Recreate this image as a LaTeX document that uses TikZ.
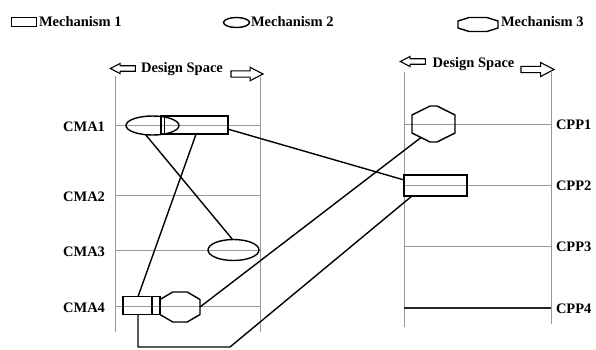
\documentclass[tikz,border=0pt]{standalone}
\usepackage{fontspec}
\setmainfont{Liberation Serif}
\usetikzlibrary{shapes.geometric,shapes.arrows,calc}
\newcommand\hexdraw[2]{%
 \coordinate (#1-a) at ($(#1.north west)!#2!(#1.north east)$);
 \coordinate (#1-b) at ($(#1.north west)!{1-#2}!(#1.north east)$);
 \coordinate (#1-c) at ($(#1.north east)!0.25!(#1.south east)$);
 \coordinate (#1-d) at ($(#1.north east)!0.75!(#1.south east)$);
 \coordinate (#1-e) at ($(#1.south west)!{1-#2}!(#1.south east)$);
 \coordinate (#1-f) at ($(#1.south west)!#2!(#1.south east)$);
 \coordinate (#1-g) at ($(#1.north west)!0.75!(#1.south west)$);
 \coordinate (#1-h) at ($(#1.north west)!0.25!(#1.south west)$);
 \draw[shp] (#1-a) -- (#1-b) -- (#1-c) -- (#1-d) -- (#1-e) -- (#1-f) -- (#1-g) -- (#1-h) -- cycle;}
\begin{document}
\begin{tikzpicture}[x=1pt,y=-1pt,
 lbl/.style={font=\fontsize{14.5}{16}\selectfont\bfseries, inner sep=0pt, outer sep=0pt},
 gridline/.style={draw=gray!80, line width=0.8pt},
 shp/.style={draw=black, line width=1.4pt, inner sep=0pt, outer sep=0pt},
 conn/.style={draw=black, line width=1.4pt},
 hbox/.style={inner sep=0pt, outer sep=0pt, draw=none},
 dsarrow/.style={single arrow, draw=black, line width=1.1pt, inner sep=0pt, outer sep=0pt},
]
\useasboundingbox (0,0) rectangle (596,349);

% legend
\node[shp, rectangle, minimum width=25pt, minimum height=8.5pt] (lg1) at (24,22) {};
\node[lbl, anchor=base west] (lt1) at (39,26.5) {Mechanism 1};
\node[shp, ellipse, minimum width=26pt, minimum height=10pt] (lg2) at (236.5,22.5) {};
\node[lbl, anchor=base west] (lt2) at (251,26.5) {Mechanism 2};
\node[hbox, minimum width=40pt, minimum height=14pt] (lg3) at (478,24.5) {};
\hexdraw{lg3}{0.28}
\node[lbl, anchor=base west] (lt3) at (501,26.5) {Mechanism 3};

% design space headers
\node[dsarrow, shape border rotate=180, minimum height=25pt, inner ysep=2.2pt, single arrow head extend=2.3pt, single arrow tip angle=55] (al1) at (125.5,68.5) {};
\node[lbl, anchor=base] (ds1) at (182,72) {Design Space};
\node[dsarrow, minimum height=32pt, inner ysep=2.6pt, single arrow head extend=3.6pt, single arrow tip angle=55] (ar1) at (244,74) {};
\node[dsarrow, shape border rotate=180, minimum height=25pt, inner ysep=2.2pt, single arrow head extend=2.3pt, single arrow tip angle=55] (al2) at (415.5,61.5) {};
\node[lbl, anchor=base] (ds2) at (473.5,67) {Design Space};
\node[dsarrow, minimum height=33pt, inner ysep=2.6pt, single arrow head extend=3.8pt, single arrow tip angle=55] (ar2) at (534.5,69.5) {};

% left panel frame
\coordinate (lt) at (115,76);
\coordinate (lb) at (115,332);
\coordinate (rt) at (260,77);
\coordinate (rb) at (260,332);
\draw[gridline] (lt) -- (lb);
\draw[gridline] (rt) -- (rb);
\foreach \n/\y in {1/125,2/195,3/250,4/306}{
  \coordinate (cmaL\n) at (115,\y);
  \coordinate (cmaR\n) at (260,\y);
  \draw[gridline] (cmaL\n) -- (cmaR\n);
  \node[lbl, anchor=east] (cma\n) at (105,\y+1.5) {CMA\n};
}

% right panel frame
\coordinate (plt) at (404,72);
\coordinate (plb) at (404,327);
\coordinate (prt) at (551,71);
\coordinate (prb) at (551,324);
\draw[gridline] (plt) -- (plb);
\draw[gridline] (prt) -- (prb);
\foreach \n/\y in {1/124,2/185,3/246}{
  \coordinate (cppL\n) at (404,\y);
  \coordinate (cppR\n) at (551,\y);
  \draw[gridline] (cppL\n) -- (cppR\n);
  \node[lbl, anchor=west] (cpp\n) at (556,\y+1) {CPP\n};
}
\coordinate (cppL4) at (404,308);
\coordinate (cppR4) at (551,308);
\draw[draw=black!85, line width=1.2pt] (cppL4) -- (cppR4);
\node[lbl, anchor=west] (cpp4) at (556,309) {CPP4};

% shapes left
\node[shp, ellipse, minimum width=53pt, minimum height=19pt] (e1) at (152.5,125.5) {};
\node[shp, rectangle, minimum width=67pt, minimum height=18pt] (r1) at (194.5,125) {};
\draw[shp] ($(r1.north west)+(3.5,0)$) -- ($(r1.south west)+(3.5,0)$);
\node[shp, ellipse, minimum width=51pt, minimum height=21pt] (e3) at (233.5,250) {};
\node[shp, rectangle, minimum width=37pt, minimum height=17.5pt] (r4) at (141.5,305.5) {};
\draw[shp] ($(r4.north east)+(-8,0)$) -- ($(r4.south east)+(-8,0)$);
\node[hbox, minimum width=40pt, minimum height=30pt] (h4) at (180,307) {};
\hexdraw{h4}{0.32}

% shapes right
\node[hbox, minimum width=43pt, minimum height=36pt] (h1) at (433.5,124) {};
\hexdraw{h1}{0.42}
\node[shp, rectangle, minimum width=63pt, minimum height=21pt] (r2) at (435.5,185.5) {};

% connectors
\draw[conn] (e1.-127) -- (e3.95);
\draw[conn] (r1.-80) -- (r4.112);
\draw[conn] (r1.-7) -- (r2.170);
\draw[conn] (h4.east) -- ($(h1-f)!0.5!(h1-g)$);
\coordinate (bl) at (138,347);
\coordinate (br) at (230,347);
\draw[conn] (r4.-112) -- (bl) -- (br) -- (r2.-156);
\end{tikzpicture}
\end{document}
